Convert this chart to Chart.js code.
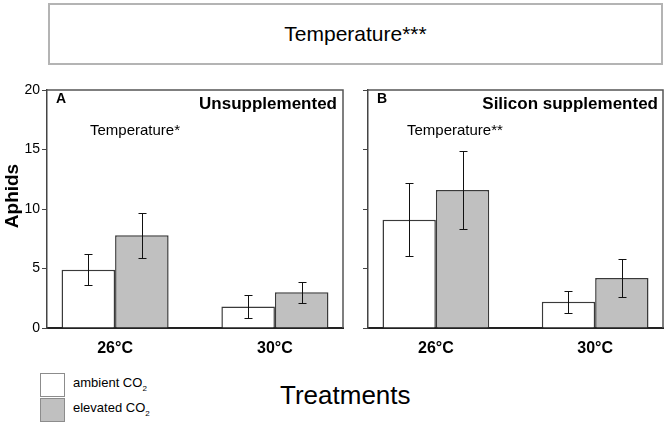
<!DOCTYPE html>
<html>
<head>
<meta charset="utf-8">
<script src="https://cdn.jsdelivr.net/npm/chart.js@4"></script>
<style>
  body { margin: 0; background: #fff; font-family: "Liberation Sans", Arial, sans-serif; }
  #wrap { position: relative; width: 666px; height: 425px; overflow: hidden; }
  canvas { position: absolute; top: 0; }
  .txt { position: absolute; color: #000; white-space: nowrap; }
  .topbox { position: absolute; left: 48px; top: 3px; width: 611px; height: 58px; border: 2px solid #b4b4b4;
            display: flex; align-items: center; justify-content: center; font-size: 21px; }
  .key { position: absolute; width: 23px; height: 22px; border: 1px solid #8c8c8c; }
  sub { font-size: 8px; }
</style>
</head>
<body>
<div id="wrap">
  <div class="topbox">Temperature***</div>
  <canvas id="chartA" width="345" height="365" style="left:0"></canvas>
  <canvas id="chartB" width="321" height="365" style="left:345px"></canvas>

  <div class="txt" style="left:2px; top:196px; font-size:19px; font-weight:bold; transform: translate(0,-50%) rotate(-90deg); transform-origin: 10px 50%; width:20px; text-align:center;">
    <span style="position:absolute; left:50%; top:50%; transform:translate(-50%,-50%);">Aphids</span>&nbsp;</div>

  <div class="txt" style="left:56px; top:90px; font-size:14px; font-weight:bold;">A</div>
  <div class="txt" style="right:329px; top:94px; font-size:17px; font-weight:bold;">Unsupplemented</div>
  <div class="txt" style="left:90px; top:121px; font-size:15px;">Temperature*</div>

  <div class="txt" style="left:377px; top:90px; font-size:14px; font-weight:bold;">B</div>
  <div class="txt" style="right:8px; top:94px; font-size:17px; font-weight:bold;">Silicon supplemented</div>
  <div class="txt" style="left:407px; top:121px; font-size:15px;">Temperature**</div>

  <div class="key" style="left:40px; top:373px; background:#fff;"></div>
  <div class="key" style="left:40px; top:398px; background:#c0c0c0;"></div>
  <div class="txt" style="left:73px; top:375px; font-size:13px;">ambient CO<sub>2</sub></div>
  <div class="txt" style="left:73px; top:400px; font-size:13px;">elevated CO<sub>2</sub></div>
  <div class="txt" style="left:280px; top:380px; font-size:26px;">Treatments</div>
</div>
<script>
// values (mean aphids, +/- error)
const categories = ['26°C', '30°C'];
const ambientUnsup = [4.9, 1.8];
const elevatedUnsup = [7.8, 3.0];
const ambientUnsupErr = [1.3, 0.95];
const elevatedUnsupErr = [1.9, 0.9];
const ambientSi = [9.1, 2.2];
const elevatedSi = [11.6, 4.2];
const ambientSiErr = [3.05, 0.95];
const elevatedSiErr = [3.3, 1.6];
const yMin = 0, yMax = 20, yStep = 5;

const font = "'Liberation Sans', Arial, sans-serif";
const xPad = 0.426; // room left/right of the two groups, in category units

// error bars + top/right frame of each panel
const panelExtras = {
  id: 'panelExtras',
  afterDatasetsDraw(chart) {
    const ctx = chart.ctx;
    const y = chart.scales.y;
    ctx.save();
    ctx.strokeStyle = '#111';
    ctx.lineWidth = 1;
    chart.data.datasets.forEach((ds, i) => {
      const meta = chart.getDatasetMeta(i);
      meta.data.forEach((bar, j) => {
        const v = ds.data[j].y, e = ds.err[j];
        const hi = Math.round(y.getPixelForValue(v + e)) + 0.5;
        const lo = Math.round(y.getPixelForValue(v - e)) + 0.5;
        const x = Math.round(bar.x) + 0.5;
        ctx.beginPath();
        ctx.moveTo(x, hi); ctx.lineTo(x, lo);
        ctx.moveTo(x - 4, hi); ctx.lineTo(x + 4, hi);
        ctx.moveTo(x - 4, lo); ctx.lineTo(x + 4, lo);
        ctx.stroke();
      });
    });
    const a = chart.chartArea;
    ctx.strokeStyle = '#555';
    ctx.lineWidth = 1.5;
    ctx.beginPath();
    ctx.moveTo(a.left, a.top); ctx.lineTo(a.right, a.top); ctx.lineTo(a.right, a.bottom);
    ctx.stroke();
    ctx.restore();
  }
};

const toPoints = arr => arr.map((v, i) => ({ x: i + 1, y: v }));

function makePanel(id, amb, ele, ambErr, eleErr, showLabels, yWidth, padRight) {
  return new Chart(document.getElementById(id), {
    type: 'bar',
    data: {
      datasets: [
        { label: 'ambient CO2', data: toPoints(amb), err: ambErr, backgroundColor: '#ffffff',
          borderColor: '#3a3a3a', borderWidth: 1.5 },
        { label: 'elevated CO2', data: toPoints(ele), err: eleErr, backgroundColor: '#c0c0c0',
          borderColor: '#3a3a3a', borderWidth: 1.5 }
      ]
    },
    options: {
      responsive: false,
      animation: false,
      devicePixelRatio: 1,
      layout: { padding: { top: 90, right: padRight, left: 0, bottom: 0 } },
      datasets: { bar: { categoryPercentage: 0.67, barPercentage: 1 } },
      plugins: { legend: { display: false }, tooltip: { enabled: false } },
      scales: {
        x: {
          type: 'linear',
          min: 1 - xPad, max: categories.length + xPad,
          offset: false,
          grid: { display: false, drawTicks: false },
          border: { display: true, color: '#222', width: 2 },
          afterBuildTicks(s) { s.ticks = categories.map((c, i) => ({ value: i + 1 })); },
          ticks: {
            color: '#000', padding: 11, font: { family: font, size: 16, weight: 'bold' },
            callback: v => categories[v - 1]
          },
          afterFit(s) { s.height = 37; }
        },
        y: {
          min: yMin, max: yMax,
          grid: { drawOnChartArea: false, drawTicks: true, tickLength: 5, color: '#444' },
          border: { display: true, color: '#444', width: 1.5 },
          ticks: {
            stepSize: yStep, color: '#000', padding: 2,
            font: { family: font, size: 14 },
            callback: v => showLabels ? v : ''
          },
          afterFit(s) { s.width = yWidth; }
        }
      }
    },
    plugins: [panelExtras]
  });
}

makePanel('chartA', ambientUnsup, elevatedUnsup, ambientUnsupErr, elevatedUnsupErr, true, 47, 2);
makePanel('chartB', ambientSi, elevatedSi, ambientSiErr, elevatedSiErr, false, 23, 3);
</script>
</body>
</html>
